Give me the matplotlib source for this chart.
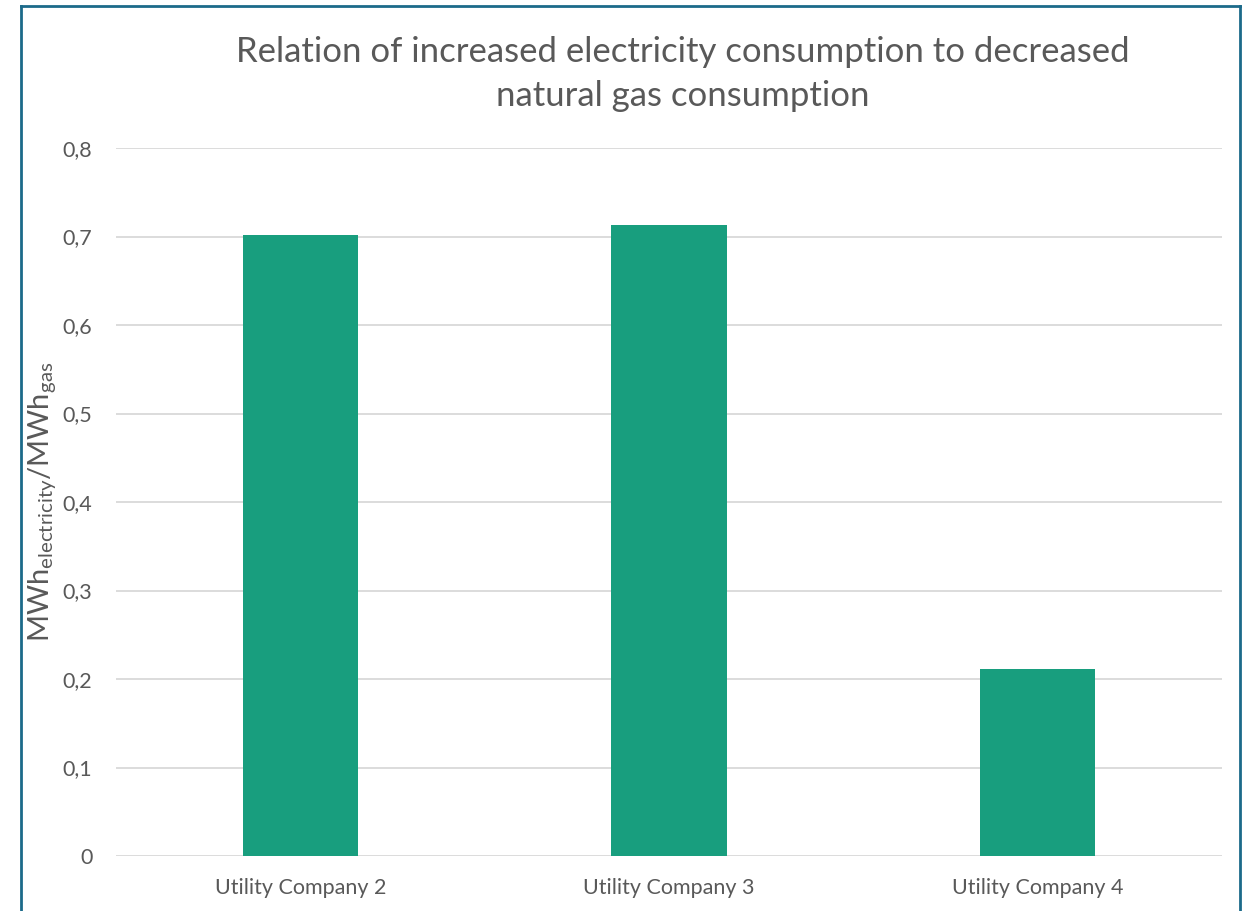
import matplotlib.pyplot as plt
from matplotlib.lines import Line2D

plt.rcParams['font.family'] = ['Lato', 'DejaVu Sans']
plt.rcParams['mathtext.default'] = 'regular'

# data
companies = ['Utility Company 2', 'Utility Company 3', 'Utility Company 4']
ratio = [0.702, 0.713, 0.211]
yticks = [0, 0.1, 0.2, 0.3, 0.4, 0.5, 0.6, 0.7, 0.8]
ytick_labels = ['0', '0,1', '0,2', '0,3', '0,4', '0,5', '0,6', '0,7', '0,8']

W, H = 1245, 911
fig = plt.figure(figsize=(W / 100, H / 100), dpi=100)
ax = fig.add_axes([116 / W, 1 - 856 / H, (1222 - 116) / W, (856 - 148) / H])

grey = '#595959'
ax.bar(range(len(companies)), ratio, width=0.313, color='#189E7E', zorder=3)
ax.set_xlim(-0.5, len(companies) - 0.5)
ax.set_ylim(0, 0.8)
ax.set_yticks(yticks)
ax.set_yticklabels(ytick_labels)
ax.set_xticks(range(len(companies)))
ax.set_xticklabels(companies)
ax.tick_params(axis='both', length=0, colors=grey, labelsize=15.5)
ax.tick_params(axis='y', pad=17)
ax.tick_params(axis='x', pad=16)
ax.grid(axis='y', color='#D9D9D9', linewidth=1.3, zorder=0)
for s in ax.spines.values():
    s.set_visible(False)

ax.set_ylabel(r'MWh$_{electricity}$/MWh$_{gas}$', fontsize=21, color=grey)
ax.yaxis.set_label_coords(-58 / (1222 - 116), 0.5)

fig.text(683 / W, 1 - 74 / H, 'Relation of increased electricity consumption to decreased\nnatural gas consumption',
         ha='center', va='center', fontsize=25, color=grey, linespacing=1.45)

# chart frame
bc = '#1C6A8A'
fig.add_artist(Line2D([21 / W, 21 / W], [0, 1 - 6 / H], color=bc, lw=2))
fig.add_artist(Line2D([21 / W, 1240 / W], [1 - 6 / H, 1 - 6 / H], color=bc, lw=2))
fig.add_artist(Line2D([1240 / W, 1240 / W], [0, 1 - 6 / H], color=bc, lw=2))

fig.savefig('out.png', dpi=100)
